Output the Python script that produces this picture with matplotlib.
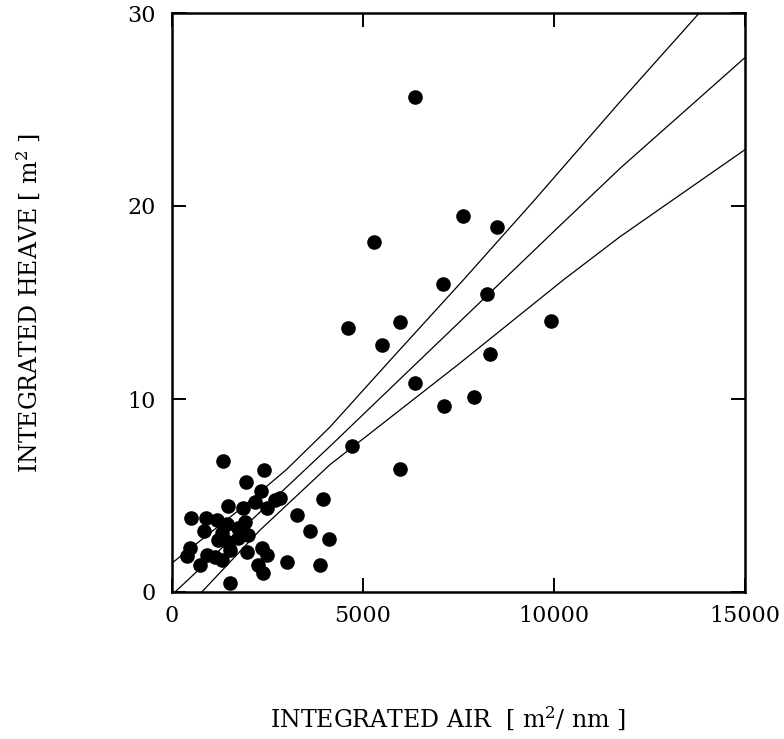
import matplotlib
matplotlib.use("Agg")
import matplotlib.pyplot as plt
from matplotlib.ticker import MultipleLocator

plt.rcParams["font.family"] = "DejaVu Serif"
plt.rcParams["mathtext.fontset"] = "dejavuserif"

# scatter points
air = [1327, 2416, 1937, 2330, 1474, 2173, 2697, 2827, 2479, 1867,
       1911, 1998, 1736, 497, 882, 1170, 1432, 846, 1301, 1212,
       1474, 1736, 471, 385, 908, 1126, 733, 1301, 1518, 1956,
       2348, 2479, 2259, 2390, 1518, 3003, 3265, 3613, 3945, 4110,
       3882, 4720, 5961, 6362, 7121, 7906, 8325, 9930, 4616, 5969,
       5506, 7087, 8239, 5296, 7611, 8501, 6362]
heave = [6.80, 6.32, 5.72, 5.23, 4.47, 4.68, 4.77, 4.85, 4.34, 4.34,
         3.64, 2.95, 2.78, 3.85, 3.85, 3.73, 3.51, 3.16, 3.04, 2.69,
         2.61, 3.30, 2.30, 1.88, 1.92, 1.83, 1.40, 1.66, 2.18, 2.05,
         2.26, 1.92, 1.40, 0.97, 0.45, 1.57, 3.99, 3.16, 4.80, 2.73,
         1.41, 7.55, 6.39, 10.83, 9.62, 10.12, 12.33, 14.04, 13.69, 14.01,
         12.78, 15.94, 15.44, 18.12, 19.50, 18.93, 25.63]

# regression line and band, read at a few places
upper_x = [0, 1649, 3000, 4136, 5800, 7627, 9477, 11729, 13803]
upper_y = [1.5, 4.08, 6.35, 8.55, 12.2, 16.17, 20.28, 25.4, 30.0]
mid_x = [80, 4136, 8674, 10158, 11729, 15000]
mid_y = [0.0, 7.55, 16.17, 18.99, 21.95, 27.69]
lower_x = [780, 2300, 4136, 4720, 7500, 10245, 11729, 15000]
lower_y = [0.0, 3.2, 6.6, 7.5, 11.8, 16.17, 18.41, 22.92]

fig = plt.figure(figsize=(7.84, 7.39), dpi=100)
ax = fig.add_axes([172/784, 147/739, 573/784, 579/739])

for xs, ys in ((upper_x, upper_y), (mid_x, mid_y), (lower_x, lower_y)):
    ax.plot(xs, ys, color="black", linewidth=0.9)

ax.scatter(air, heave, s=90, color="black", zorder=3, clip_on=False)

ax.set_xlim(0, 15000)
ax.set_ylim(0, 30)
ax.xaxis.set_major_locator(MultipleLocator(5000))
ax.yaxis.set_major_locator(MultipleLocator(10))
ax.tick_params(direction="in", length=10, width=1.4, top=True, right=True,
               labelsize=16)
ax.tick_params(axis="x", pad=9)
ax.tick_params(axis="y", pad=12)
for s in ax.spines.values():
    s.set_linewidth(1.8)

ax.set_xlabel(r"INTEGRATED AIR  [ m$^{2}$/ nm ]", fontsize=17)
ax.set_ylabel(r"INTEGRATED HEAVE [ m$^{2}$ ]", fontsize=17)
ax.xaxis.set_label_coords(0.482, -0.195)
ax.yaxis.set_label_coords(-0.225, 0.5)

plt.savefig("out.png", dpi=100)
